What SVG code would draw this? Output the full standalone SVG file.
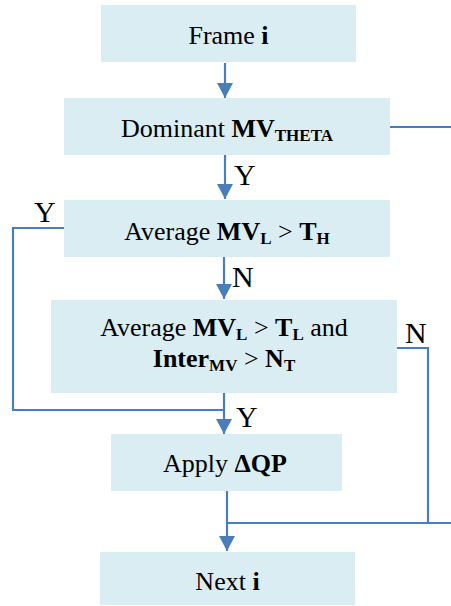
<svg xmlns="http://www.w3.org/2000/svg" width="451" height="606" viewBox="0 0 451 606">
<defs>
<style>
.box{fill:#DAEDF3;stroke:none}
.t{font-size:26px;fill:#000;text-anchor:middle}
.b{font-weight:bold}
.s{font-size:17px;font-weight:bold}
.lbl{font-size:30px;fill:#000}
.c{fill:none;stroke:#4A7EBB;stroke-width:2.2}
</style>
<marker id="ah" markerUnits="userSpaceOnUse" markerWidth="16" markerHeight="16" viewBox="0 0 16 16" refX="15" refY="8" orient="auto">
<path d="M0,0 L15,8 L0,16 Z" fill="#4A7EBB"/>
</marker>
</defs>
<g font-family="Liberation Serif, Times New Roman, serif">
<g id="n1"><rect class="box" x="101" y="5" width="255" height="57"/><text class="t" x="228.5" y="44">Frame <tspan class="b">i</tspan></text></g>
<g id="n2"><rect class="box" x="64" y="98" width="326" height="57"/><text class="t" x="227" y="137">Dominant <tspan class="b">MV</tspan><tspan class="s" dy="4">THETA</tspan></text></g>
<g id="n3"><rect class="box" x="64" y="200" width="326" height="57"/><text class="t" x="227" y="240">Average <tspan class="b">MV</tspan><tspan class="s" dy="4">L</tspan><tspan dy="-4"> &gt; </tspan><tspan class="b">T</tspan><tspan class="s" dy="4">H</tspan></text></g>
<g id="n4"><rect class="box" x="51" y="300" width="346" height="93"/><text class="t" x="224" y="336">Average <tspan class="b">MV</tspan><tspan class="s" dy="4">L</tspan><tspan dy="-4"> &gt; </tspan><tspan class="b">T</tspan><tspan class="s" dy="4">L</tspan><tspan dy="-4"> and</tspan></text><text class="t" x="224" y="367"><tspan class="b">Inter</tspan><tspan class="s" dy="4">MV</tspan><tspan dy="-4"> &gt; </tspan><tspan class="b">N</tspan><tspan class="s" dy="4">T</tspan></text></g>
<g id="n5"><rect class="box" x="111" y="434" width="231" height="57"/><text class="t" x="225" y="472">Apply <tspan class="b">ΔQP</tspan></text></g>
<g id="n6"><rect class="box" x="100" y="552" width="255" height="53"/><text class="t" x="227.5" y="590">Next <tspan class="b">i</tspan></text></g>
<g id="connectors">
<line class="c" x1="225" y1="63" x2="225" y2="98" marker-end="url(#ah)"/>
<line class="c" x1="390" y1="127" x2="451" y2="127"/>
<line class="c" x1="225" y1="155" x2="225" y2="199" marker-end="url(#ah)"/>
<line class="c" x1="224" y1="257" x2="224" y2="299" marker-end="url(#ah)"/>
<polyline class="c" points="64,228 13,228 13,410 224,410"/>
<line class="c" x1="224" y1="393" x2="224" y2="434" marker-end="url(#ah)"/>
<polyline class="c" points="397,348 428,348 428,523"/>
<line class="c" x1="227" y1="523" x2="451" y2="523"/>
<line class="c" x1="227" y1="491" x2="227" y2="551" marker-end="url(#ah)"/>
</g>
<g id="labels">
<text class="lbl" x="234" y="185">Y</text>
<text class="lbl" x="232" y="287">N</text>
<text class="lbl" x="34" y="222">Y</text>
<text class="lbl" x="405" y="343">N</text>
<text class="lbl" x="236" y="427">Y</text>
</g>
</g>
</svg>
